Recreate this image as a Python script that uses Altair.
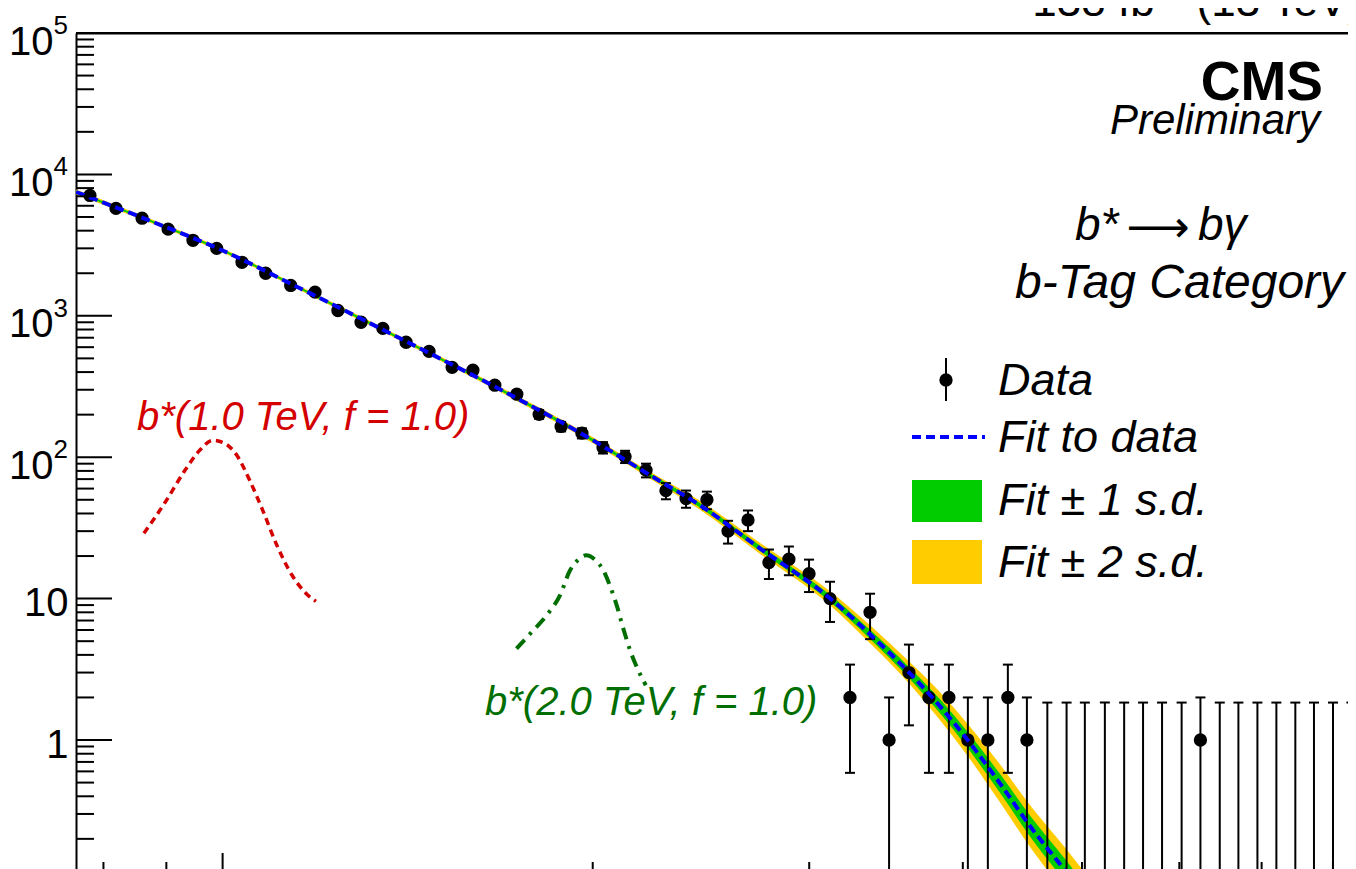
import altair as alt
import pandas as pd

# ---------------- data ----------------
mass = [780, 819, 860, 903, 946, 989, 1037, 1084, 1136, 1189,
        1241, 1296, 1350, 1410, 1472, 1537, 1598, 1665, 1735, 1809,
        1885, 1960, 2039, 2125, 2210, 2294, 2382, 2477, 2577, 2675,
        2782, 2888, 2999, 3119, 3238, 3362, 3484, 3616, 3754, 3897,
        4038, 4192, 4352, 4510, 4686, 4858, 5027, 5219, 5411, 5606,
        5809, 6026, 6242, 6472, 6702, 6945, 7196, 7456, 7721, 8001, 8282]
counts = [7100, 5750, 4900, 4100, 3420, 3000, 2390, 2000, 1640, 1470,
          1090, 900, 815, 650, 560, 432, 412, 323, 279, 201,
          165, 148, 117, 101, 81, 58, 51, 50, 30, 36,
          18, 19, 15, 10, 2, 8, 1, 3, 2, 2,
          1, 1, 2, 1, 0, 0, 0, 0, 0, 0,
          0, 0, 1, 0, 0, 0, 0, 0, 0, 0, 0]
err_lo = [7016, 5674, 4830, 4036, 3362, 2945, 2341, 1955, 1600, 1432,
          1057, 870, 786, 624.5, 536.3, 411.2, 391.7, 305.0, 262.3, 186.8,
          152.2, 135.8, 106.2, 90.95, 72, 50.4, 43.9, 42.9, 24.5, 30,
          13.76, 14.64, 11.13, 6.84, 0.586, 5.17, 0.01, 1.27, 0.586, 0.586,
          0.01, 0.01, 0.586, 0.01, 0.01, 0.01, 0.01, 0.01, 0.01, 0.01,
          0.01, 0.01, 0.01, 0.01, 0.01, 0.01, 0.01, 0.01, 0.01, 0.01, 0.01]
err_hi = [7184, 5826, 4970, 4164, 3478, 3055, 2439, 2045, 1680, 1508,
          1123, 930, 844, 675.5, 583.7, 452.8, 432.3, 341.0, 295.7, 215.2,
          177.8, 160.2, 127.8, 111.05, 90, 65.6, 58.1, 57.1, 35.5, 42,
          22.24, 23.36, 18.87, 13.16, 3.414, 10.83, 2.0, 4.73, 3.414, 3.414,
          2.0, 2.0, 3.414, 2.0, 1.84, 1.84, 1.84, 1.84, 1.84, 1.84,
          1.84, 1.84, 2.0, 1.84, 1.84, 1.84, 1.84, 1.84, 1.84, 1.84, 1.84]

fit_m = [760, 873, 999, 1156, 1394, 1681, 2001, 2227, 2445, 2735,
         3119, 3362, 3616, 3833, 4038, 4288, 4544, 4842, 5170]
fit_v = [7508, 4697, 2906, 1565, 693, 302, 131.7, 74.5, 45.7, 22.7,
         10.05, 5.59, 3.01, 1.73, 0.995, 0.494, 0.2414, 0.1199, 0.0557]
fit_lo1 = [7357, 4621, 2859, 1540, 680.7, 295.9, 128.5, 72.41, 44.06, 21.71,
           9.49, 5.19, 2.75, 1.544, 0.873, 0.4232, 0.2035, 0.0994, 0.0454]
fit_hi1 = [7663, 4774, 2954, 1591, 705.5, 308.2, 134.95, 76.65, 47.40, 23.74,
           10.64, 6.02, 3.29, 1.939, 1.133, 0.5766, 0.2864, 0.1446, 0.0683]
fit_lo2 = [7208, 4547, 2813, 1515, 668.6, 289.9, 125.4, 70.38, 42.47, 20.76,
           8.97, 4.83, 2.52, 1.377, 0.767, 0.3626, 0.1715, 0.0824, 0.0371]
fit_hi2 = [7820, 4852, 3002, 1617, 718.3, 314.6, 138.3, 78.87, 49.18, 24.83,
           11.26, 6.47, 3.60, 2.173, 1.291, 0.673, 0.3398, 0.1744, 0.0837]

sig1_m = [863, 898, 932, 958, 982, 1004, 1027, 1052, 1078, 1107, 1139, 1167, 1191]
sig1_v = [28.96, 47.97, 80.8, 111.9, 131.7, 125.4, 103.1, 68.63, 42.12, 23.82, 14.62, 11.06, 9.57]
sig2_m = [1734, 1784, 1835, 1881, 1917, 1947, 1975, 2008, 2040, 2065, 2092, 2118, 2145, 2172, 2209]
sig2_v = [4.43, 5.80, 7.62, 10.55, 15.85, 18.87, 20.24, 18.87, 15.85, 12.42, 8.97, 6.13, 4.31, 3.28, 2.44]

y_major = [1, 10, 100, 1000, 10000, 100000]
y_exp_vals = [100, 1000, 10000, 100000]
y_exp_text = ["2", "3", "4", "5"]
y_minor = [0.2, 0.3, 0.4, 0.5, 0.6, 0.7, 0.8, 0.9,
           2, 3, 4, 5, 6, 7, 8, 9,
           20, 30, 40, 50, 60, 70, 80, 90,
           200, 300, 400, 500, 600, 700, 800, 900,
           2000, 3000, 4000, 5000, 6000, 7000, 8000, 9000,
           20000, 30000, 40000, 50000, 60000, 70000, 80000, 90000]
x_major = [1000]
x_minor = [800, 900, 2000, 3000, 4000, 5000, 6000, 7000, 8000]

# ---------------- styling ----------------
FONT = "Liberation Sans"
W, H = 1272, 838
X_DOM = [759.9, 8229]
Y_DOM = [0.1185, 100000]
YELLOW = "#ffcc00"
GREEN = "#00cc00"
BLUE = "#0000ff"
RED = "#d40000"
DKGREEN = "#006e00"

xs = alt.Scale(type="log", domain=X_DOM, nice=False)
ys = alt.Scale(type="log", domain=Y_DOM, nice=False)
x_axis = alt.Axis(orient="top", labels=False, ticks=False, domain=True,
                  domainColor="black", domainWidth=2, grid=False, title=None)
y_axis = alt.Axis(orient="left", values=y_major,
                  labelExpr="datum.value < 5 ? '1' : '10'",
                  labelFont=FONT, labelFontSize=40, labelColor="black",
                  labelBaseline="alphabetic",
                  labelPadding={"condition": {"test": "datum.value > 50", "value": 23}, "value": 8},
                  labelOffset={"condition": {"test": "datum.value > 50", "value": 21}, "value": 17},
                  labelOverlap=False, labelBound=False, labelFlush=False,
                  ticks=False, tickSize=0, domain=True, domainColor="black",
                  domainWidth=2, grid=False, title=None)


def X(f):
    return alt.X(f, type="quantitative", scale=xs, axis=x_axis)


def Y(f):
    return alt.Y(f, type="quantitative", scale=ys, axis=y_axis)


data_df = pd.DataFrame({"m": mass, "n": counts, "lo": err_lo, "hi": err_hi})
pts = data_df[data_df["n"] > 0]
fit_df = pd.DataFrame({"m": fit_m, "v": fit_v, "lo1": fit_lo1, "hi1": fit_hi1,
                       "lo2": fit_lo2, "hi2": fit_hi2})
sig1_df = pd.DataFrame({"m": sig1_m, "v": sig1_v})
sig2_df = pd.DataFrame({"m": sig2_m, "v": sig2_v})
one = pd.DataFrame({"k": [0]})

band2 = alt.Chart(fit_df).mark_area(color=YELLOW, clip=True, interpolate="monotone").encode(
    x=X("m"), y=Y("lo2"), y2="hi2")
band1 = alt.Chart(fit_df).mark_area(color=GREEN, clip=True, interpolate="monotone").encode(
    x=X("m"), y=Y("lo1"), y2="hi1")
err = alt.Chart(data_df).mark_rule(color="black", strokeWidth=2).encode(
    x=X("m"), y=Y("lo"), y2="hi")
cap_hi = alt.Chart(data_df).mark_tick(orient="horizontal", size=10, thickness=2,
                                      color="black", opacity=1).encode(x=X("m"), y=Y("hi"))
cap_lo = alt.Chart(pts).mark_tick(orient="horizontal", size=10, thickness=2,
                                  color="black", opacity=1).encode(x=X("m"), y=Y("lo"))
points = alt.Chart(pts).mark_circle(size=177, color="black", opacity=1).encode(
    x=X("m"), y=Y("n"))
fit_line = alt.Chart(fit_df).mark_line(color=BLUE, strokeWidth=4, strokeDash=[9, 5],
                                       clip=True, interpolate="monotone").encode(x=X("m"), y=Y("v"))
sig1 = alt.Chart(sig1_df).mark_line(color=RED, strokeWidth=3.5, strokeDash=[7, 5],
                                    interpolate="monotone").encode(x=X("m"), y=Y("v"))
sig2 = alt.Chart(sig2_df).mark_line(color=DKGREEN, strokeWidth=4, strokeDash=[12, 7, 3, 7],
                                    interpolate="monotone").encode(x=X("m"), y=Y("v"))

yt_major = alt.Chart(pd.DataFrame({"t": y_major})).mark_rule(color="black", strokeWidth=2).encode(
    y=Y("t"), x=alt.value(0), x2=alt.value(36))
yt_minor = alt.Chart(pd.DataFrame({"t": y_minor})).mark_rule(color="black", strokeWidth=2).encode(
    y=Y("t"), x=alt.value(0), x2=alt.value(18))
xt_major = alt.Chart(pd.DataFrame({"t": x_major})).mark_rule(color="black", strokeWidth=2).encode(
    x=X("t"), y=alt.value(H), y2=alt.value(H - 18))
xt_minor = alt.Chart(pd.DataFrame({"t": x_minor})).mark_rule(color="black", strokeWidth=2).encode(
    x=X("t"), y=alt.value(H), y2=alt.value(H - 9))
y_exp = alt.Chart(pd.DataFrame({"t": y_exp_vals, "e": y_exp_text})).mark_text(
    align="left", baseline="alphabetic", font=FONT, fontSize=26, color="black", dy=1).encode(
    y=Y("t"), x=alt.value(-22.5), text="e:N")
# top frame continues past the visible right edge
top_frame = alt.Chart(one).mark_rule(color="black", strokeWidth=2).encode(
    x=alt.value(0), x2=alt.value(W + 20), y=alt.value(0))

leg_pt = alt.Chart(one).mark_circle(size=177, color="black", opacity=1).encode(
    x=alt.value(870), y=alt.value(347))
leg_bar = alt.Chart(one).mark_rule(color="black", strokeWidth=2).encode(
    x=alt.value(870), y=alt.value(325), y2=alt.value(368))
leg_fit = alt.Chart(one).mark_rule(color=BLUE, strokeWidth=4, strokeDash=[9, 5]).encode(
    x=alt.value(836), x2=alt.value(909), y=alt.value(404))
leg_g = alt.Chart(one).mark_rect(color=GREEN).encode(
    x=alt.value(836), x2=alt.value(906), y=alt.value(447), y2=alt.value(489))
leg_y = alt.Chart(one).mark_rect(color=YELLOW).encode(
    x=alt.value(836), x2=alt.value(906), y=alt.value(507), y2=alt.value(551))


def txt(s, x, y, size, align="left", style="italic", weight="normal", color="black", font=FONT):
    return alt.Chart(one).mark_text(text=s, align=align, baseline="alphabetic", font=font,
                                    fontSize=size, fontStyle=style, fontWeight=weight,
                                    color=color).encode(x=alt.value(x), y=alt.value(y))


texts = [
    txt("138 fb⁻¹ (13 TeV)", 1286, -17, 44, align="right", style="normal"),
    txt("CMS", 1247, 67, 55, align="right", style="normal", weight="bold"),
    txt("Preliminary", 1244, 101, 42, align="right"),
    txt("b*", 999, 207, 46),
    txt("⟶", 1082, 209, 44, align="center", style="normal", font="DejaVu Sans"),
    txt("bγ", 1122, 207, 46),
    txt("b-Tag Category", 939, 265, 48),
    txt("Data", 922, 362, 45),
    txt("Fit to data", 922, 419, 45),
    txt("Fit ± 1 s.d.", 922, 482, 45),
    txt("Fit ± 2 s.d.", 922, 544, 45),
    txt("b*(1.0 TeV, f = 1.0)", 61, 397, 40, color=RED),
    txt("b*(2.0 TeV, f = 1.0)", 409, 682, 40, color=DKGREEN),
]

chart = alt.layer(
    band2, band1, err, cap_hi, cap_lo, points, fit_line, sig1, sig2,
    yt_major, yt_minor, xt_major, xt_minor, y_exp, top_frame,
    leg_y, leg_g, leg_fit, leg_bar, leg_pt, *texts
).properties(
    width=W, height=H,
    padding={"left": 68, "top": 25, "right": 0, "bottom": 0},
    autosize=alt.AutoSizeParams(type="none"),
    background="white",
).configure_view(stroke=None)

chart.save("out.html", embed_options={"renderer": "svg", "actions": False})
